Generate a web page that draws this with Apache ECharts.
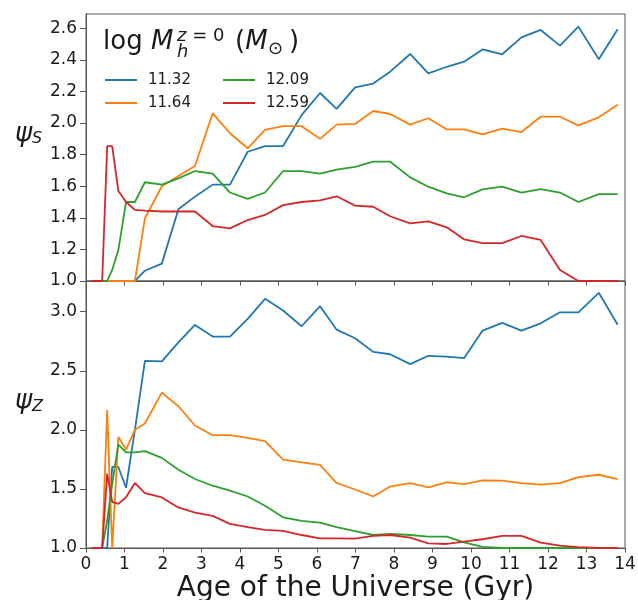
<!DOCTYPE html>
<html><head><meta charset="utf-8">
<script src="https://cdn.jsdelivr.net/npm/echarts@6/dist/echarts.min.js"></script>
<style>html,body{margin:0;padding:0;background:#fff}#c{width:638px;height:600px}</style>
</head><body><div id="c"></div>
<script>
// ---- data ----
const ages = [0.15, 0.42, 0.55, 0.68, 0.84, 1.04, 1.27, 1.53, 1.97, 2.40, 2.83, 3.29, 3.74, 4.20, 4.65, 5.12, 5.60, 6.08, 6.51, 6.99, 7.46, 7.90, 8.42, 8.89, 9.37, 9.82, 10.30, 10.81, 11.31, 11.81, 12.31, 12.79, 13.32, 13.81];
const massNames = ['11.32', '11.64', '12.09', '12.59'];

const psiS_1132 = [1.0, 1.0, 1.0, 1.0, 1.0, 1.0, 1.0, 1.065, 1.11, 1.454, 1.534, 1.61, 1.61, 1.818, 1.854, 1.854, 2.05, 2.19, 2.089, 2.226, 2.25, 2.325, 2.437, 2.314, 2.356, 2.388, 2.466, 2.435, 2.542, 2.589, 2.49, 2.61, 2.403, 2.593];
const psiS_1164 = [1.0, 1.0, 1.0, 1.0, 1.0, 1.0, 1.0, 1.397, 1.60, 1.665, 1.728, 2.061, 1.935, 1.84, 1.956, 1.98, 1.98, 1.90, 1.99, 1.994, 2.076, 2.057, 1.99, 2.03, 1.96, 1.96, 1.928, 1.964, 1.943, 2.04, 2.04, 1.985, 2.036, 2.116];
const psiS_1209 = [1.0, 1.0, 1.0, 1.07, 1.196, 1.50, 1.50, 1.625, 1.61, 1.65, 1.696, 1.68, 1.56, 1.52, 1.56, 1.696, 1.696, 1.68, 1.705, 1.723, 1.755, 1.755, 1.656, 1.597, 1.555, 1.53, 1.58, 1.597, 1.56, 1.582, 1.56, 1.50, 1.55, 1.55];
const psiS_1259 = [1.0, 1.0, 1.854, 1.854, 1.57, 1.50, 1.45, 1.445, 1.44, 1.44, 1.44, 1.348, 1.333, 1.386, 1.418, 1.48, 1.50, 1.51, 1.536, 1.477, 1.47, 1.41, 1.365, 1.378, 1.34, 1.264, 1.24, 1.24, 1.285, 1.26, 1.07, 1.0, 1.0, 1.0];

const psiZ_1132 = [1.0, 1.0, 1.0, 1.686, 1.686, 1.51, 2.0, 2.584, 2.58, 2.74, 2.888, 2.79, 2.79, 2.94, 3.109, 3.01, 2.877, 3.047, 2.848, 2.775, 2.66, 2.64, 2.556, 2.627, 2.62, 2.607, 2.84, 2.905, 2.84, 2.902, 2.995, 2.995, 3.16, 2.89];
const psiZ_1164 = [1.0, 1.0, 2.167, 1.0, 1.94, 1.833, 2.0, 2.054, 2.315, 2.20, 2.037, 1.955, 1.955, 1.933, 1.904, 1.748, 1.725, 1.703, 1.55, 1.495, 1.436, 1.52, 1.55, 1.513, 1.555, 1.54, 1.572, 1.57, 1.55, 1.536, 1.55, 1.60, 1.62, 1.584];
const psiZ_1209 = [1.0, 1.0, 1.23, 1.54, 1.876, 1.81, 1.81, 1.82, 1.763, 1.663, 1.584, 1.527, 1.485, 1.436, 1.357, 1.26, 1.23, 1.215, 1.176, 1.142, 1.11, 1.119, 1.11, 1.096, 1.096, 1.048, 1.01, 1.0, 1.0, 1.0, 1.0, 1.0, 1.0, 1.0];
const psiZ_1259 = [1.0, 1.0, 1.63, 1.39, 1.374, 1.43, 1.55, 1.465, 1.428, 1.343, 1.30, 1.272, 1.204, 1.176, 1.153, 1.145, 1.11, 1.082, 1.082, 1.08, 1.102, 1.11, 1.088, 1.04, 1.034, 1.054, 1.074, 1.102, 1.102, 1.045, 1.02, 1.008, 1.0, 1.0];

const xTicks = [0, 1, 2, 3, 4, 5, 6, 7, 8, 9, 10, 11, 12, 13, 14];
const psiSTicks = [1.0, 1.2, 1.4, 1.6, 1.8, 2.0, 2.2, 2.4, 2.6];
const psiZTicks = [1.0, 1.5, 2.0, 2.5, 3.0];

// ---- chart ----
const FONT = 'DejaVu Sans';
const colors = ['#1f77b4', '#ff7f0e', '#2ca02c', '#d62728'];
const spine = '#555';
const psiS = [psiS_1132, psiS_1164, psiS_1209, psiS_1259];
const psiZ = [psiZ_1132, psiZ_1164, psiZ_1209, psiZ_1259];
const pair = vals => ages.map((a, i) => [a, vals[i]]);

const series = [];
massNames.forEach((n, k) => {
  series.push({name: n, type: 'line', xAxisIndex: 0, yAxisIndex: 0, data: pair(psiS[k]),
    symbol: 'none', color: colors[k], lineStyle: {width: 1.8, color: colors[k]}, z: 3, clip: true});
});
massNames.forEach((n, k) => {
  series.push({name: n, type: 'line', xAxisIndex: 1, yAxisIndex: 1, data: pair(psiZ[k]),
    symbol: 'none', color: colors[k], lineStyle: {width: 1.8, color: colors[k]}, z: 3, clip: true});
});

const axisCommonY = {
  type: 'value',
  axisLine: {show: true, lineStyle: {color: spine, width: 1}},
  axisTick: {show: true, length: 6, lineStyle: {color: spine}},
  splitLine: {show: false},
  axisLabel: {color: '#1a1a1a', fontFamily: FONT, fontSize: 17, margin: 9}
};

const legendCommon = {
  orient: 'vertical', top: 67, itemWidth: 32, itemHeight: 2, itemGap: 7, icon: 'rect',
  textStyle: {fontFamily: FONT, fontSize: 15, color: '#1a1a1a', lineHeight: 16, padding: [0, 0, 0, 6]},
  selectedMode: false
};

const option = {
  animation: false,
  backgroundColor: '#fff',
  grid: [
    {left: 86, right: 13, top: 14, height: 267, show: true, borderColor: spine, borderWidth: 1, backgroundColor: 'transparent', containLabel: false, outerBoundsMode: 'none'},
    {left: 86, right: 13, top: 281, height: 267, show: true, borderColor: spine, borderWidth: 1, backgroundColor: 'transparent', containLabel: false, outerBoundsMode: 'none'}
  ],
  xAxis: [
    {type: 'value', gridIndex: 0, min: 0, max: 14, interval: 1,
      axisLine: {show: true, lineStyle: {color: spine}},
      axisTick: {show: true, length: 4.5, lineStyle: {color: spine}, customValues: xTicks},
      axisLabel: {show: false}, splitLine: {show: false}},
    {type: 'value', gridIndex: 1, min: 0, max: 14, interval: 1,
      axisLine: {show: true, lineStyle: {color: spine}},
      axisTick: {show: true, length: 4.5, lineStyle: {color: spine}, customValues: xTicks},
      axisLabel: {color: '#1a1a1a', fontFamily: FONT, fontSize: 17, margin: 8, customValues: xTicks},
      splitLine: {show: false},
      name: 'Age of the Universe (Gyr)', nameLocation: 'middle', nameGap: 27,
      nameTextStyle: {fontFamily: FONT, fontSize: 28, color: '#1a1a1a', verticalAlign: 'top'}}
  ],
  yAxis: [
    Object.assign({}, axisCommonY, {gridIndex: 0, min: 1.0, max: 2.69,
      axisTick: Object.assign({}, axisCommonY.axisTick, {customValues: psiSTicks}),
      axisLabel: Object.assign({}, axisCommonY.axisLabel, {customValues: psiSTicks, formatter: v => v.toFixed(1)})}),
    Object.assign({}, axisCommonY, {gridIndex: 1, min: 1.0, max: 3.26,
      axisTick: Object.assign({}, axisCommonY.axisTick, {customValues: psiZTicks}),
      axisLabel: Object.assign({}, axisCommonY.axisLabel, {customValues: psiZTicks, formatter: v => v.toFixed(1)})})
  ],
  legend: [
    Object.assign({}, legendCommon, {left: 100, data: [massNames[0], massNames[1]]}),
    Object.assign({}, legendCommon, {left: 218, data: [massNames[2], massNames[3]]})
  ],
  graphic: [
    // legend title: log M_h^{z=0} (M_sun)
    {type: 'text', left: 103, top: 29, z: 10, style: {text: '{n|log }{i|M}', rich: {
      n: {fontFamily: FONT, fontSize: 26, fill: '#1a1a1a'},
      i: {fontFamily: FONT, fontSize: 26, fontStyle: 'italic', fill: '#1a1a1a'}}}},
    {type: 'text', left: 177, top: 27, z: 10, style: {text: '{i|z}{n| = 0}', rich: {
      n: {fontFamily: FONT, fontSize: 18, fill: '#1a1a1a'},
      i: {fontFamily: FONT, fontSize: 18, fontStyle: 'italic', fill: '#1a1a1a'}}}},
    {type: 'text', left: 177, top: 43, z: 10, style: {text: 'h', fontFamily: FONT, fontSize: 18, fontStyle: 'italic', fill: '#1a1a1a'}},
    {type: 'text', left: 235, top: 29, z: 10, style: {text: '{n|(}{i|M}', rich: {
      n: {fontFamily: FONT, fontSize: 26, fill: '#1a1a1a'},
      i: {fontFamily: FONT, fontSize: 26, fontStyle: 'italic', fill: '#1a1a1a'}}}},
    {type: 'text', left: 268, top: 40, z: 10, style: {text: '\u2299', fontFamily: FONT, fontSize: 18, fill: '#1a1a1a'}},
    {type: 'text', left: 289, top: 29, z: 10, style: {text: ')', fontFamily: FONT, fontSize: 26, fill: '#1a1a1a'}},
    // y axis names
    {type: 'text', left: 15, top: 121, z: 10, style: {text: '\u03C8', fontFamily: FONT, fontSize: 26, fontStyle: 'italic', fill: '#1a1a1a'}},
    {type: 'text', left: 32, top: 131, z: 10, style: {text: 'S', fontFamily: FONT, fontSize: 16, fontStyle: 'italic', fill: '#1a1a1a'}},
    {type: 'text', left: 15, top: 388, z: 10, style: {text: '\u03C8', fontFamily: FONT, fontSize: 26, fontStyle: 'italic', fill: '#1a1a1a'}},
    {type: 'text', left: 32, top: 399, z: 10, style: {text: 'Z', fontFamily: FONT, fontSize: 16, fontStyle: 'italic', fill: '#1a1a1a'}}
  ],
  series: series
};

const chart = echarts.init(document.getElementById('c'), null, {renderer: 'canvas'});
chart.setOption(option);
</script>
</body></html>
